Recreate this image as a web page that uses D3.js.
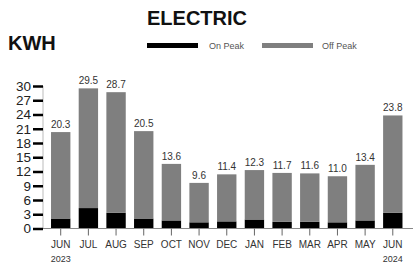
<!DOCTYPE html>
<html><head><meta charset="utf-8">
<script src="https://cdn.jsdelivr.net/npm/d3@7"></script>
<style>
html,body{margin:0;padding:0;background:#fff;}
svg{display:block;font-family:"Liberation Sans",Arial,sans-serif;}
</style></head>
<body><svg id="c" width="416" height="264"></svg>
<script>
const months = ["JUN","JUL","AUG","SEP","OCT","NOV","DEC","JAN","FEB","MAR","APR","MAY","JUN"];
const years = ["2023","","","","","","","","","","","","2024"];
const totalKwh = [20.3,29.5,28.7,20.5,13.6,9.6,11.4,12.3,11.7,11.6,11.0,13.4,23.8];
const onPeak = [2.1,4.3,3.3,2.1,1.7,1.3,1.5,1.9,1.4,1.4,1.3,1.7,3.3];
const yTicks = [0,3,6,9,12,15,18,21,24,27,30];
const seriesNames = ["On Peak","Off Peak"];
const colors = ["#000000","#7f7f7f"];

const data = months.map((m,i)=>({key:i, month:m, year:years[i], total:totalKwh[i], on:onPeak[i], off:totalKwh[i]-onPeak[i]}));

const svg = d3.select("#c");
const x = d3.scaleBand().domain(d3.range(months.length)).range([43,410.5]).paddingInner(0.3).paddingOuter(0.29);
const y = d3.scaleLinear().domain([0,30]).range([228.5,86]);

// title
svg.append("text").attr("x",197).attr("y",25).attr("text-anchor","middle")
  .attr("font-size",20).attr("font-weight","bold").attr("fill","#111").text("ELECTRIC");
svg.append("text").attr("x",8).attr("y",50)
  .attr("font-size",20).attr("font-weight","bold").attr("fill","#111").text("KWH");

// legend
const leg = [{x:147,tx:209},{x:262,tx:322}];
seriesNames.forEach((n,i)=>{
  svg.append("rect").attr("x",leg[i].x).attr("y",43).attr("width",51).attr("height",5).attr("fill",colors[i]);
  svg.append("text").attr("x",leg[i].tx).attr("y",49).attr("font-size",9).attr("fill","#555").text(n);
});

// stacked bars
const stack = d3.stack().keys(["on","off"])(data);
svg.append("g").selectAll("g").data(stack).join("g").attr("fill",(d,i)=>colors[i])
  .selectAll("rect").data(d=>d).join("rect")
  .attr("x",d=>x(d.data.key)).attr("width",x.bandwidth())
  .attr("y",d=>y(d[1])).attr("height",d=>y(d[0])-y(d[1]));

// value labels
svg.append("g").selectAll("text").data(data).join("text")
  .attr("x",d=>x(d.key)+x.bandwidth()/2).attr("y",d=>y(d.total)-4)
  .attr("text-anchor","middle").attr("font-size",10).attr("fill","#333")
  .text(d=>d.total.toFixed(1));

// y axis
const yAxis = d3.axisLeft(y).tickValues(yTicks).tickSize(10).tickPadding(2);
const gy = svg.append("g").attr("transform","translate(43,0)").call(yAxis);
gy.select(".domain").attr("stroke","#bbb").attr("stroke-width",1).attr("d","M0,"+y(30)+"V"+y(0));
gy.selectAll(".tick line").attr("stroke","#000").attr("stroke-width",2.5);
gy.selectAll(".tick text").attr("font-size",13.5).attr("fill","#222").attr("font-family","'Liberation Sans',Arial,sans-serif");

// x axis
const xAxis = d3.axisBottom(x).tickSize(7).tickFormat(i=>months[i]).tickPadding(5);
const gx = svg.append("g").attr("transform","translate(0,"+y(0)+")").call(xAxis);
gx.select(".domain").attr("stroke","#888").attr("stroke-width",1).attr("d","M43,0H413");
gx.selectAll(".tick line").attr("stroke","#666");
gx.selectAll(".tick text").attr("font-size",10).attr("fill","#333").attr("font-family","'Liberation Sans',Arial,sans-serif");

// year labels
svg.append("g").selectAll("text").data(data.filter(d=>d.year)).join("text")
  .attr("x",d=>x(d.key)+x.bandwidth()/2).attr("y",262).attr("text-anchor","middle")
  .attr("font-size",9).attr("fill","#333").text(d=>d.year);
</script></body></html>
